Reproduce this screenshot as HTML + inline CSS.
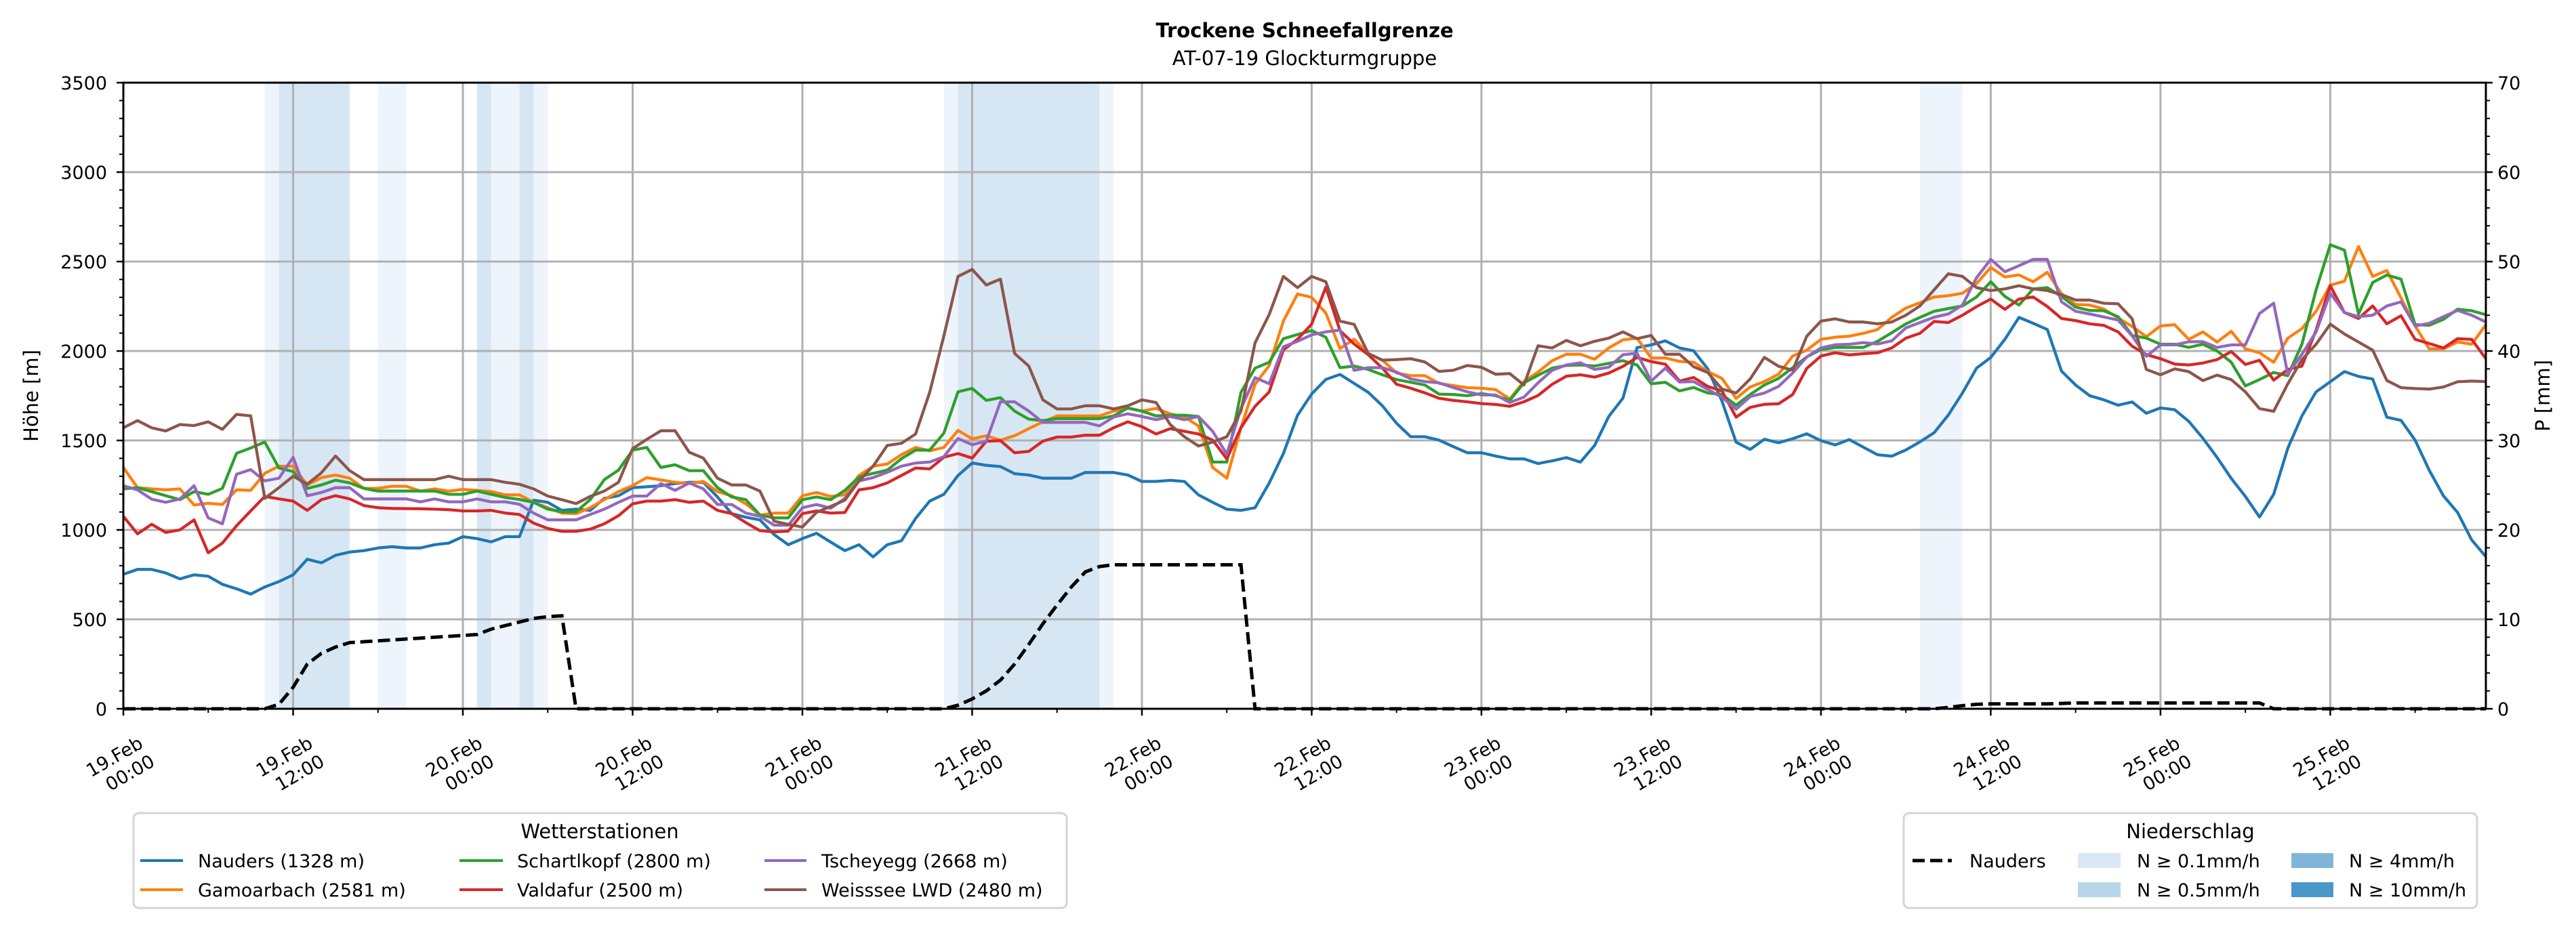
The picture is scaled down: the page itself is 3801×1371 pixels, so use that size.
<!DOCTYPE html>
<html><head><meta charset="utf-8"><title>Trockene Schneefallgrenze</title>
<style>
html,body{margin:0;padding:0;background:#fff;}
svg{display:block;font-family:"DejaVu Sans","Liberation Sans",sans-serif;}
</style></head>
<body>
<svg id="chart" xmlns="http://www.w3.org/2000/svg" width="3801" height="1371" viewBox="0 0 3801 1371">
<rect x="0" y="0" width="3801" height="1371" fill="#fff"/>
<text x="1925" y="55" text-anchor="middle" font-size="29" font-weight="bold">Trockene Schneefallgrenze</text>
<text x="1925" y="96" text-anchor="middle" font-size="29">AT-07-19 Glockturmgruppe</text>
<g id="bands"></g>
<g id="grid"></g>
<g id="series"></g>
<g id="axes"></g>
<text transform="translate(56,584) rotate(-90)" text-anchor="middle" font-size="29">Höhe [m]</text>
<text transform="translate(3762,584) rotate(-90)" text-anchor="middle" font-size="29">P [mm]</text>

<g>
<rect x="197" y="1200" width="1377" height="140" rx="8" fill="#fff" stroke="#d4d4d4" stroke-width="3"/>
<text x="885" y="1237" text-anchor="middle" font-size="29">Wetterstationen</text>
<g font-size="27">
<g><line x1="207" y1="1270" x2="270" y2="1270" stroke="#1f77b4" stroke-width="4"/><text x="292" y="1280">Nauders (1328 m)</text></g>
<g><line x1="207" y1="1313" x2="270" y2="1313" stroke="#ff7f0e" stroke-width="4"/><text x="292" y="1323">Gamoarbach (2581 m)</text></g>
<g><line x1="678" y1="1270" x2="742" y2="1270" stroke="#2ca02c" stroke-width="4"/><text x="763" y="1280">Schartlkopf (2800 m)</text></g>
<g><line x1="678" y1="1313" x2="742" y2="1313" stroke="#d62728" stroke-width="4"/><text x="763" y="1323">Valdafur (2500 m)</text></g>
<g><line x1="1128" y1="1270" x2="1190" y2="1270" stroke="#9467bd" stroke-width="4"/><text x="1212" y="1280">Tscheyegg (2668 m)</text></g>
<g><line x1="1128" y1="1313" x2="1190" y2="1313" stroke="#8c564b" stroke-width="4"/><text x="1212" y="1323">Weisssee LWD (2480 m)</text></g>
</g>
</g>

<g>
<rect x="2809" y="1200" width="846" height="140" rx="8" fill="#fff" stroke="#d4d4d4" stroke-width="3"/>
<text x="3232" y="1237" text-anchor="middle" font-size="29">Niederschlag</text>
<g font-size="27">
<g><line x1="2822" y1="1270" x2="2880" y2="1270" stroke="#000" stroke-width="5" stroke-dasharray="18 8"/><text x="2906" y="1280">Nauders</text></g>
<g><rect x="3066" y="1259" width="63" height="22" fill="#dae8f5"/><text x="3153" y="1280">N ≥ 0.1mm/h</text></g>
<g><rect x="3066" y="1302" width="63" height="22" fill="#b9d5ea"/><text x="3153" y="1323">N ≥ 0.5mm/h</text></g>
<g><rect x="3381" y="1259" width="62" height="22" fill="#80b5da"/><text x="3466" y="1280">N ≥ 4mm/h</text></g>
<g><rect x="3381" y="1302" width="62" height="22" fill="#4a97c9"/><text x="3466" y="1323">N ≥ 10mm/h</text></g>
</g>
</g>
</svg>
<script>
const nauders = [752,779,779,759,726,749,741,696,671,641,681,711,749,836,816,858,876,884,899,906,899,899,917,926,962,951,933,962,962,1166,1154,1109,1116,1109,1176,1191,1236,1241,1247,1259,1266,1266,1184,1091,1071,1056,974,917,951,981,932,884,917,849,917,939,1064,1161,1199,1304,1374,1361,1354,1314,1307,1289,1289,1289,1321,1321,1321,1307,1271,1271,1277,1271,1196,1154,1116,1109,1124,1262,1427,1641,1760,1841,1869,1819,1769,1694,1596,1521,1521,1502,1466,1431,1431,1413,1397,1397,1371,1386,1404,1379,1472,1634,1736,2019,2034,2057,2017,2001,1900,1720,1490,1450,1507,1487,1510,1537,1499,1475,1505,1462,1420,1412,1447,1492,1543,1642,1765,1904,1964,2065,2188,2155,2120,1888,1810,1750,1727,1697,1715,1652,1682,1672,1607,1512,1405,1288,1187,1072,1199,1457,1637,1772,1828,1885,1858,1843,1630,1612,1502,1333,1190,1097,944,850];
const gamoarbach = [1349,1236,1229,1224,1229,1139,1149,1142,1224,1221,1316,1356,1356,1251,1292,1307,1289,1232,1232,1244,1244,1217,1229,1217,1226,1221,1214,1196,1196,1154,1124,1094,1091,1124,1169,1214,1248,1292,1279,1266,1259,1271,1214,1191,1146,1083,1094,1094,1191,1209,1187,1196,1304,1356,1368,1421,1461,1442,1461,1556,1509,1526,1502,1526,1566,1604,1637,1637,1637,1637,1664,1679,1664,1679,1649,1631,1581,1349,1289,1571,1814,1919,2167,2319,2300,2212,2014,2066,1986,1949,1877,1862,1862,1819,1807,1795,1792,1784,1732,1829,1882,1946,1982,1982,1954,2017,2062,2072,1961,1961,1942,1937,1885,1847,1735,1799,1829,1870,1972,2005,2065,2077,2083,2099,2120,2188,2240,2270,2302,2309,2323,2377,2467,2414,2425,2387,2440,2320,2260,2257,2234,2185,2137,2080,2140,2147,2065,2107,2050,2110,2012,1990,1937,2072,2125,2222,2368,2390,2584,2417,2450,2297,2140,2012,2012,2050,2038,2147];
const schartlkopf = [1229,1236,1214,1191,1169,1214,1199,1232,1428,1458,1491,1346,1326,1232,1251,1278,1263,1232,1217,1217,1217,1217,1217,1199,1199,1217,1199,1181,1170,1154,1116,1101,1101,1169,1281,1334,1446,1461,1349,1364,1331,1331,1236,1184,1169,1083,1067,1067,1169,1184,1169,1221,1296,1316,1334,1398,1446,1446,1541,1772,1791,1724,1739,1664,1619,1611,1622,1622,1622,1622,1637,1682,1664,1637,1641,1641,1634,1379,1379,1769,1904,1937,2069,2092,2114,2077,1907,1916,1897,1867,1840,1825,1810,1759,1757,1750,1762,1750,1724,1822,1864,1904,1919,1922,1916,1931,1946,1922,1817,1825,1777,1796,1765,1757,1697,1757,1810,1847,1907,1967,2008,2020,2020,2020,2054,2102,2152,2188,2222,2237,2252,2302,2387,2305,2257,2347,2354,2305,2245,2227,2225,2192,2087,2072,2038,2038,2020,2038,2000,1937,1805,1840,1880,1862,2038,2342,2594,2564,2207,2383,2425,2402,2147,2144,2177,2234,2225,2203];
const valdafur = [1076,978,1031,986,1000,1056,872,926,1023,1106,1187,1173,1161,1109,1169,1191,1173,1136,1124,1120,1119,1118,1116,1113,1106,1106,1109,1094,1086,1038,1008,992,992,1004,1034,1079,1146,1161,1161,1169,1154,1161,1109,1091,1041,996,989,993,1091,1106,1094,1097,1224,1236,1263,1304,1346,1341,1406,1427,1401,1496,1499,1431,1439,1496,1519,1519,1529,1529,1571,1604,1577,1536,1566,1551,1536,1502,1397,1571,1691,1772,2006,2066,2150,2357,2114,2039,1979,1904,1814,1792,1766,1736,1724,1716,1706,1701,1691,1716,1751,1814,1859,1867,1854,1877,1914,1964,1941,1926,1832,1852,1802,1777,1630,1685,1702,1705,1757,1903,1972,1990,1978,1985,1990,2017,2072,2099,2165,2159,2200,2248,2290,2233,2290,2302,2249,2182,2170,2152,2143,2107,2027,1980,1957,1927,1922,1933,1952,1997,1925,1948,1837,1897,1915,2117,2365,2215,2182,2252,2152,2197,2065,2042,2017,2069,2065,1957];
const tscheyegg = [1247,1224,1172,1154,1173,1247,1067,1034,1311,1337,1274,1289,1406,1191,1209,1236,1236,1173,1173,1173,1173,1157,1173,1157,1157,1173,1157,1157,1143,1094,1056,1056,1056,1086,1116,1154,1189,1189,1259,1221,1262,1229,1142,1142,1094,1076,1026,1026,1124,1142,1121,1176,1274,1292,1322,1356,1374,1379,1409,1511,1476,1496,1716,1716,1664,1601,1601,1601,1601,1581,1631,1649,1634,1616,1634,1616,1634,1551,1424,1679,1851,1817,2024,2054,2090,2107,2117,1892,1907,1907,1882,1844,1829,1822,1796,1772,1754,1754,1712,1742,1822,1892,1922,1934,1897,1909,1979,1987,1832,1904,1826,1829,1785,1742,1675,1745,1765,1802,1877,1967,2017,2035,2038,2047,2039,2057,2129,2159,2189,2207,2257,2410,2512,2443,2477,2512,2512,2275,2222,2207,2190,2173,2084,1970,2034,2034,2052,2052,2020,2034,2034,2210,2267,1870,1982,2107,2323,2215,2192,2200,2252,2275,2140,2155,2192,2227,2200,2162];
const weisssee = [1571,1611,1571,1553,1589,1583,1604,1562,1646,1637,1176,1236,1300,1256,1319,1413,1331,1281,1281,1281,1281,1281,1281,1300,1281,1281,1281,1266,1255,1229,1189,1169,1147,1187,1217,1266,1454,1506,1554,1554,1434,1401,1289,1251,1251,1217,1049,1031,1016,1098,1131,1166,1274,1356,1472,1484,1536,1769,2084,2417,2456,2369,2402,1986,1916,1727,1676,1676,1694,1694,1676,1694,1727,1712,1589,1521,1469,1491,1521,1664,2046,2204,2417,2354,2417,2387,2167,2149,1986,1949,1952,1957,1939,1886,1892,1919,1909,1870,1874,1810,2029,2017,2059,2029,2054,2072,2107,2069,2087,1982,1982,1912,1880,1787,1765,1844,1964,1915,1892,2083,2167,2180,2162,2162,2152,2162,2200,2252,2342,2432,2417,2354,2338,2347,2365,2347,2338,2315,2285,2285,2267,2264,2180,1897,1867,1900,1885,1835,1865,1840,1772,1678,1663,1817,1952,2038,2150,2095,2050,2005,1835,1795,1790,1787,1799,1828,1832,1829];
const precipNauders = [0,0,0,0,0,0,0,0,0,0, 0,0.5,2.4,5.0,6.2,6.9,7.4,7.5,7.6,7.7, 7.8,7.9,8.0,8.1,8.2,8.3,8.9,9.3,9.7,10.1, 10.3,10.4,0,0,0,0,0,0,0,0, 0,0,0,0,0,0,0,0,0,0, 0,0,0,0,0,0,0,0,0,0.4, 1.1,2.0,3.2,5.0,7.2,9.5,11.6,13.6,15.3,15.9, 16.1,16.1,16.1,16.1,16.1,16.1,16.1,16.1,16.1,16.1, 0,0,0,0,0,0,0,0,0,0, 0,0,0,0,0,0,0,0,0,0, 0,0,0,0,0,0,0,0,0,0, 0,0,0,0,0,0,0,0,0,0, 0,0,0,0,0,0,0,0,0,0.15, 0.35,0.5,0.55,0.55,0.55,0.55,0.55,0.6,0.65,0.65, 0.65,0.65,0.65,0.65,0.65,0.65,0.65,0.65,0.65,0.65, 0.65,0.65,0,0,0,0,0,0,0,0, 0,0,0,0,0,0,0,0];
const bandStart = [10,11,18,25,26,28,29,58,59,69,127];
const bandEnd   = [11,16,20,26,28,29,30,59,69,70,130];
const bandLevel = ["0.1","0.5","0.1","0.5","0.1","0.5","0.1","0.1","0.5","0.1","0.1"];
const xTickDays = ["19.Feb","19.Feb","20.Feb","20.Feb","21.Feb","21.Feb","22.Feb","22.Feb","23.Feb","23.Feb","24.Feb","24.Feb","25.Feb","25.Feb"];
const xTickTimes = ["00:00","12:00","00:00","12:00","00:00","12:00","00:00","12:00","00:00","12:00","00:00","12:00","00:00","12:00"];
const yTicks = [0,500,1000,1500,2000,2500,3000,3500];
const y2Ticks = [0,10,20,30,40,50,60,70];

const L=182,R=3668,T=122,B=1046,HMAX=167,YMAX=3500,PMAX=70;
const NS="http://www.w3.org/2000/svg";
function x(h){return L+h*(R-L)/HMAX;}
function y(m){return B-m*(B-T)/YMAX;}
function yp(p){return B-p*(B-T)/PMAX;}
function mk(tag,attrs,parent){const e=document.createElementNS(NS,tag);for(const k in attrs)e.setAttribute(k,attrs[k]);parent.appendChild(e);return e;}

const bandsG=document.getElementById('bands');
const bandColor={"0.1":"#eef4fb","0.5":"#d7e6f3"};
for(let i=0;i<bandStart.length;i++){
  const r=mk('rect',{x:x(bandStart[i]),y:T,width:x(bandEnd[i])-x(bandStart[i]),height:B-T,fill:bandColor[bandLevel[i]]},bandsG);
  
  
}
const gridG=document.getElementById('grid');
for(let i=0;i<xTickDays.length;i++){
  const gx=x(i*12);
  const l=mk('line',{x1:gx,y1:T,x2:gx,y2:B,stroke:'#b0b0b0','stroke-width':3},gridG);
  
  
}
for(const v of yTicks){
  const l=mk('line',{x1:L,y1:y(v),x2:R,y2:y(v),stroke:'#b0b0b0','stroke-width':3},gridG);
  
  
}
const seriesG=document.getElementById('series');
const series=[[nauders,'#1f77b4','line-nauders'],[gamoarbach,'#ff7f0e','line-gamoarbach'],[schartlkopf,'#2ca02c','line-schartlkopf'],[valdafur,'#d62728','line-valdafur'],[tscheyegg,'#9467bd','line-tscheyegg'],[weisssee,'#8c564b','line-weisssee']];
for(const s of series){
  const pts=s[0].map((v,i)=>x(i).toFixed(1)+','+y(v).toFixed(1)).join(' ');
  const p=mk('polyline',{points:pts,fill:'none',stroke:s[1],'stroke-width':4.3,'stroke-linejoin':'round'},seriesG);
  
  
}
const ppts=precipNauders.map((v,i)=>x(i).toFixed(1)+','+yp(v).toFixed(1)).join(' ');
const pl=mk('polyline',{points:ppts,fill:'none',stroke:'#000','stroke-width':5,'stroke-dasharray':'18 8'},seriesG);



const axG=document.getElementById('axes');
const frame=mk('rect',{x:L,y:T,width:R-L,height:B-T,fill:'none',stroke:'#000','stroke-width':3},axG);


for(let h=0;h<=HMAX;h+=6){
  const major=(h%12===0);
  mk('line',{x1:x(h),y1:B,x2:x(h),y2:B+(major?10:6),stroke:'#000','stroke-width':major?2.5:2},axG);
}
for(let i=0;i<xTickDays.length;i++){
  const g=mk('g',{transform:'translate('+(x(i*12)-2)+',1128) rotate(-30)','font-size':'27','text-anchor':'middle'},axG);
  
  
  const t1=mk('text',{x:-4,y:-6},g);t1.textContent=xTickDays[i];
  const t2=mk('text',{x:4,y:26},g);t2.textContent=xTickTimes[i];
}
for(let v=0;v<=YMAX;v+=100){
  const major=(v%500===0);
  mk('line',{x1:L,y1:y(v),x2:L-(major?10:6),y2:y(v),stroke:'#000','stroke-width':major?2.5:2},axG);
}
for(const v of yTicks){
  const t=mk('text',{x:158,y:y(v)+10,'text-anchor':'end','font-size':'27'},axG);
  
  
  t.textContent=v;
}
for(let p=0;p<=PMAX;p+=2){
  const major=(p%10===0);
  mk('line',{x1:R,y1:yp(p),x2:R+(major?10:6),y2:yp(p),stroke:'#000','stroke-width':major?2.5:2},axG);
}
for(const p of y2Ticks){
  const t=mk('text',{x:3685,y:yp(p)+10,'text-anchor':'start','font-size':'27'},axG);
  
  
  t.textContent=p;
}
</script>
</body></html>
